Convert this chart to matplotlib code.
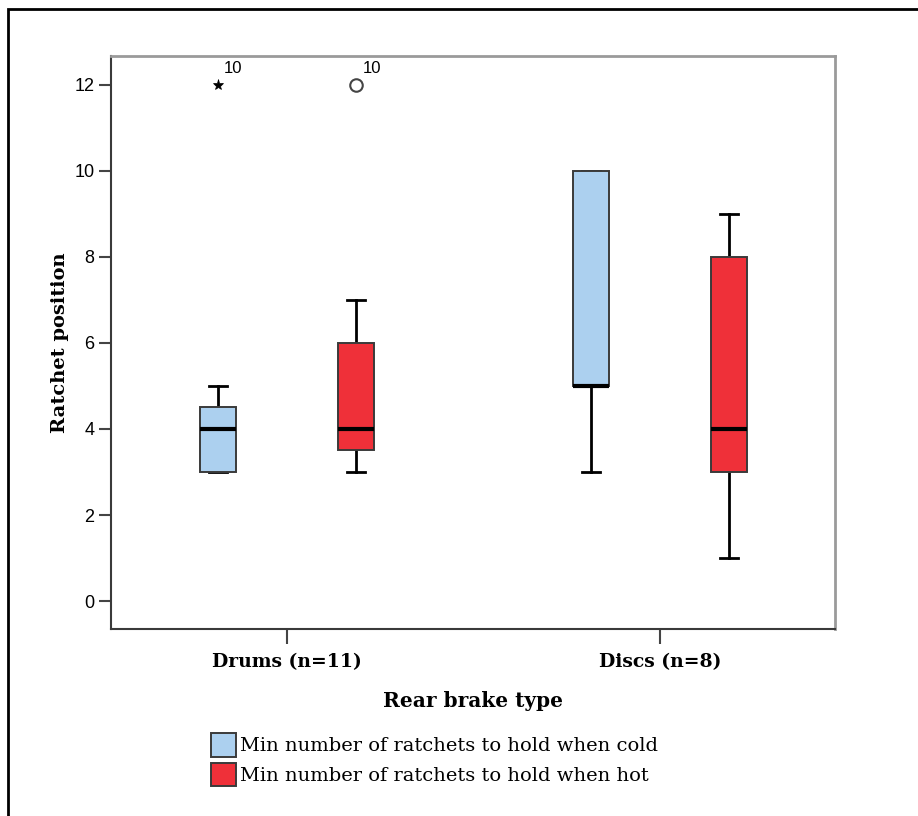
import matplotlib
matplotlib.use("Agg")
import matplotlib.pyplot as plt
from matplotlib.patches import Patch, Rectangle

# Ratchet positions by rear brake type (summary statistics per box)
groups = ["Drums (n=11)", "Discs (n=8)"]
series = ["Min number of ratchets to hold when cold",
          "Min number of ratchets to hold when hot"]

cold_whislo = [3, 3]
cold_q1 = [3, 5]
cold_med = [4, 5]
cold_q3 = [4.5, 10]
cold_whishi = [5, 10]
cold_fliers = [[12], []]

hot_whislo = [3, 1]
hot_q1 = [3.5, 3]
hot_med = [4, 4]
hot_q3 = [6, 8]
hot_whishi = [7, 9]
hot_fliers = [[12], []]

outlier_case = "10"
y_ticks = [0, 2, 4, 6, 8, 10, 12]

cold_color = "#acd0ef"
hot_color = "#ef3039"

serif = ["DejaVu Serif"]
sans = ["Liberation Sans", "DejaVu Sans"]

fig = plt.figure(figsize=(9.18, 8.16), dpi=100)
ax = fig.add_axes([111 / 918, 1 - 629 / 816, 724 / 918, 573 / 816])


def stats(whislo, q1, med, q3, whishi):
    return [dict(whislo=a, q1=b, med=c, q3=d, whishi=e, fliers=[])
            for a, b, c, d, e in zip(whislo, q1, med, q3, whishi)]


offset = 0.185
width = 0.097
common = dict(
    widths=width, patch_artist=True, showfliers=False,
    boxprops=dict(edgecolor="#3a3a3a", linewidth=1.4, zorder=3),
    medianprops=dict(color="black", linewidth=3, zorder=4),
    whiskerprops=dict(color="black", linewidth=2, zorder=2),
    capprops=dict(color="black", linewidth=2, zorder=2),
    capwidths=width / 2,
)

pos_cold = [i - offset for i in range(len(groups))]
pos_hot = [i + offset for i in range(len(groups))]

b1 = ax.bxp(stats(cold_whislo, cold_q1, cold_med, cold_q3, cold_whishi),
            positions=pos_cold, **common)
b2 = ax.bxp(stats(hot_whislo, hot_q1, hot_med, hot_q3, hot_whishi),
            positions=pos_hot, **common)
for p in b1["boxes"]:
    p.set_facecolor(cold_color)
for p in b2["boxes"]:
    p.set_facecolor(hot_color)

# Extreme value (star) for cold, outlier (circle) for hot
for x, fl in zip(pos_cold, cold_fliers):
    for v in fl:
        ax.plot(x, v, marker="*", color="black", markersize=8,
                markeredgewidth=0.5, linestyle="none")
        ax.annotate(outlier_case, (x, v), xytext=(4, 6),
                    textcoords="offset points", ha="left", va="bottom",
                    fontsize=12, family=sans)
for x, fl in zip(pos_hot, hot_fliers):
    for v in fl:
        ax.plot(x, v, marker="o", markerfacecolor="white",
                markeredgecolor="#444444", markersize=9,
                markeredgewidth=1.5, linestyle="none")
        ax.annotate(outlier_case, (x, v), xytext=(5, 6),
                    textcoords="offset points", ha="left", va="bottom",
                    fontsize=12, family=sans)

ax.set_xlim(-0.472, 1.469)
ax.set_ylim(-0.65, 12.67)
ax.set_xticks(range(len(groups)))
ax.set_xticklabels(groups, fontsize=13.5, fontweight="bold", family=serif)
ax.set_yticks(y_ticks)
ax.set_yticklabels([str(t) for t in y_ticks], fontsize=13, family=sans)
ax.tick_params(axis="y", length=9, width=1.5, color="#444444", pad=3)
ax.tick_params(axis="x", length=11, width=1.5, color="#444444", pad=6)

for s in ["left", "bottom"]:
    ax.spines[s].set_color("#3a3a3a")
    ax.spines[s].set_linewidth(1.5)
for s in ["top", "right"]:
    ax.spines[s].set_color("#9a9a9a")
    ax.spines[s].set_linewidth(2)

ax.set_xlabel("Rear brake type", fontsize=14.5, fontweight="bold",
              family=serif, labelpad=15)
ax.set_ylabel("Ratchet position", fontsize=14, fontweight="bold",
              family=serif, labelpad=4)

handles = [Patch(facecolor=cold_color, edgecolor="#3a3a3a", linewidth=1.4),
           Patch(facecolor=hot_color, edgecolor="#3a3a3a", linewidth=1.4)]
fig.legend(handles, series, loc="upper left",
           bbox_to_anchor=(211 / 918, 1 - 733 / 816), frameon=False,
           prop=dict(family=serif, size=14), handlelength=1.3,
           handleheight=1.5, handletextpad=0.2, labelspacing=0.3,
           borderaxespad=0, borderpad=0)

# Outer frame around the whole figure
fig.patches.append(Rectangle((8 / 918, -0.1), 1.2, 1 - 9 / 816 + 0.1,
                             transform=fig.transFigure, fill=False,
                             edgecolor="black", linewidth=2, zorder=10))

fig.savefig("out.png", dpi=100)
